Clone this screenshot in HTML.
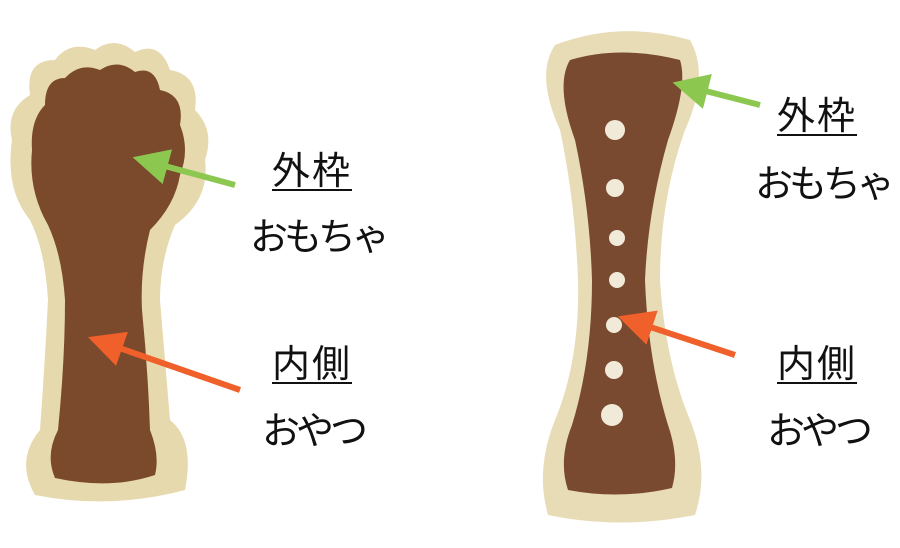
<!DOCTYPE html>
<html><head><meta charset="utf-8"><style>
html,body{margin:0;padding:0;background:#fff;}
body{width:900px;height:548px;position:relative;overflow:hidden;font-family:"Liberation Sans","Noto Sans CJK JP",sans-serif;}
.t{position:absolute;font-size:38px;color:#111;line-height:1;white-space:nowrap;}
.k{letter-spacing:-4px;}
.u{text-decoration:underline;text-underline-offset:5px;text-decoration-thickness:2px;letter-spacing:2px;}
</style></head><body>
<svg width="900" height="548" style="position:absolute;left:0;top:0">
<defs>
<marker id="g" markerWidth="6" markerHeight="6" refX="3" refY="3" orient="auto"><path d="M0,0 L6,3 L0,6 z" fill="#8cc850"/></marker>
<marker id="o" markerWidth="6" markerHeight="6" refX="3" refY="3" orient="auto"><path d="M0,0 L6,3 L0,6 z" fill="#f0602a"/></marker>
</defs>
<path d="M30,95 Q25,60 55,60 Q70,40 95,50 Q115,35 135,52 Q160,40 170,70 Q200,75 195,110 Q215,130 205,160 Q210,200 175,225 Q160,260 160,300 Q165,360 170,420 Q195,440 185,490 Q110,510 35,495 Q15,460 40,430 Q45,360 48,300 Q45,250 30,220 Q5,190 12,140 Q5,110 30,95 Z" fill="#e6d9ad"/>
<path d="M45,105 Q45,78 65,78 Q80,62 100,70 Q118,58 135,72 Q155,65 160,90 Q185,95 180,125 Q190,150 180,175 Q175,205 150,230 Q140,270 142,310 Q148,370 150,430 Q160,455 155,475 Q110,490 55,478 Q45,455 58,430 Q65,360 65,300 Q62,255 48,225 Q28,190 32,150 Q30,120 45,105 Z" fill="#7b4a2c"/>
<path d="M555,45 Q620,20 690,40 Q710,75 685,130 Q660,200 660,280 Q665,360 690,420 Q710,470 695,515 Q620,530 548,515 Q535,470 555,420 Q580,360 578,280 Q575,200 560,130 Q535,75 555,45 Z" fill="#e8dcb6"/>
<path d="M570,60 Q620,45 680,60 Q688,85 668,140 Q648,210 645,280 Q648,360 668,425 Q680,460 672,488 Q620,500 568,490 Q558,460 572,425 Q592,360 592,280 Q590,210 575,140 Q555,85 570,60 Z" fill="#7a4a30"/>
<g fill="#f1ead8">
<circle cx="615" cy="130" r="10"/><circle cx="615" cy="188" r="9"/><circle cx="617" cy="238" r="8"/><circle cx="617" cy="280" r="8"/><circle cx="614" cy="325" r="8"/><circle cx="614" cy="370" r="9"/><circle cx="612" cy="415" r="11"/>
</g>
<line x1="235" y1="185" x2="150" y2="162" stroke="#8cc850" stroke-width="6" marker-end="url(#g)"/>
<line x1="240" y1="390" x2="105" y2="343" stroke="#f0602a" stroke-width="6" marker-end="url(#o)"/>
<line x1="760" y1="105" x2="690" y2="87" stroke="#8cc850" stroke-width="6" marker-end="url(#g)"/>
<line x1="735" y1="355" x2="635" y2="322" stroke="#f0602a" stroke-width="6" marker-end="url(#o)"/>
</svg>
<div class="t u" style="left:272px;top:153px">外枠</div>
<div class="t k" style="left:250px;top:219px">おもちゃ</div>
<div class="t u" style="left:272px;top:346px">内側</div>
<div class="t k" style="left:262px;top:413px">おやつ</div>
<div class="t u" style="left:777px;top:98px">外枠</div>
<div class="t k" style="left:755px;top:166px">おもちゃ</div>
<div class="t u" style="left:777px;top:346px">内側</div>
<div class="t k" style="left:767px;top:413px">おやつ</div>
</body></html>
